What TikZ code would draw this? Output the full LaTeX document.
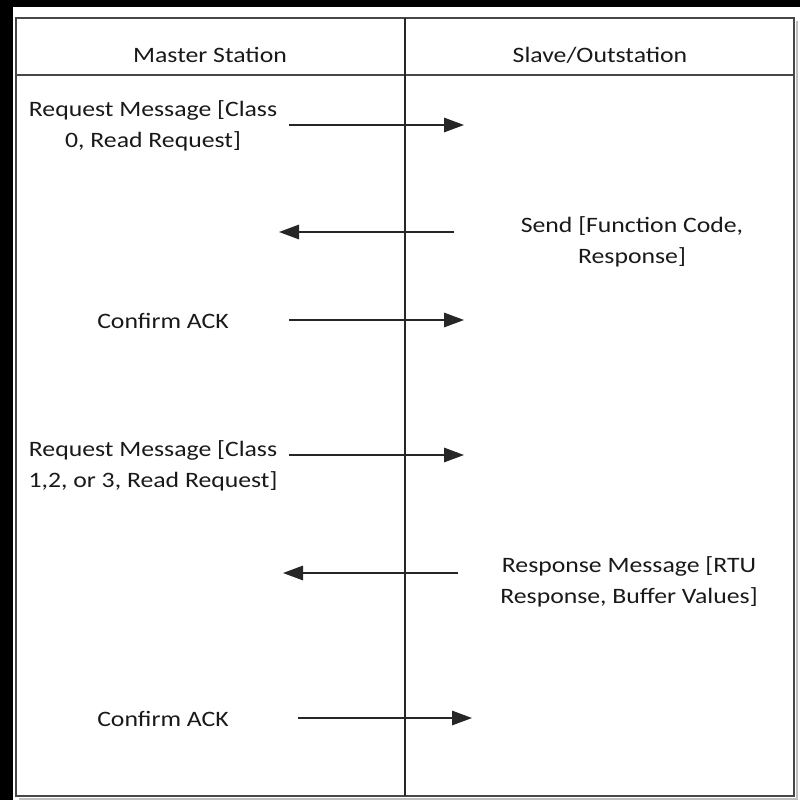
\documentclass[tikz,border=0pt]{standalone}
\usepackage{fontspec}
\setmainfont{Carlito}[FakeStretch=1.17]
\usetikzlibrary{arrows.meta}
\begin{document}
\begin{tikzpicture}[x=1pt,y=-1pt,
  frame/.style={draw=black!72,line width=1.6pt},
  msg/.style={draw=black!85,line width=1.4pt,-{Triangle[length=20pt,width=14.5pt]}},
  lbl/.style={font=\fontsize{22}{31}\selectfont,align=center,inner sep=0pt,text=black!90}]
\useasboundingbox (0,0) rectangle (800,800);
% dark surround at the top and left
\fill[black] (0,0) rectangle (800,7);
\fill[black] (0,0) rectangle (13,800);
% soft shadow of the frame
\draw[black!25,line width=2pt] (19,799) -- (797,799) -- (797,21);
% outer frame, header rule and lane divider
\draw[frame] (16,18) rectangle (794,796);
\draw[frame] (16,75) -- (794,75);
\draw[draw=black!85,line width=1.6pt] (405,18) -- (405,796);
% lane headers
\node[lbl] (hm) at (210,55) {Master Station};
\node[lbl] (hs) at (600,55) {Slave/Outstation};
% message labels
\node[lbl] (t1) at (153,126) {Request Message [Class\\0, Read Request]};
\node[lbl] (t2) at (632,242) {Send [Function Code,\\Response]};
\node[lbl] (t3) at (163,321) {Confirm ACK};
\node[lbl] (t4) at (153,466) {Request Message [Class\\1,2, or 3, Read Request]};
\node[lbl] (t5) at (629,582) {Response Message [RTU\\Response, Buffer Values]};
\node[lbl] (t6) at (163,719) {Confirm ACK};
% arrow end points
\coordinate (a1) at (289,125); \coordinate (b1) at (464,125);
\coordinate (a2) at (454,232); \coordinate (b2) at (279,232);
\coordinate (a3) at (289,320); \coordinate (b3) at (464,320);
\coordinate (a4) at (289,455); \coordinate (b4) at (464,455);
\coordinate (a5) at (458,573); \coordinate (b5) at (283,573);
\coordinate (a6) at (298,718); \coordinate (b6) at (472,718);
\draw[msg] (a1) -- (b1);
\draw[msg] (a2) -- (b2);
\draw[msg] (a3) -- (b3);
\draw[msg] (a4) -- (b4);
\draw[msg] (a5) -- (b5);
\draw[msg] (a6) -- (b6);
\end{tikzpicture}
\end{document}
